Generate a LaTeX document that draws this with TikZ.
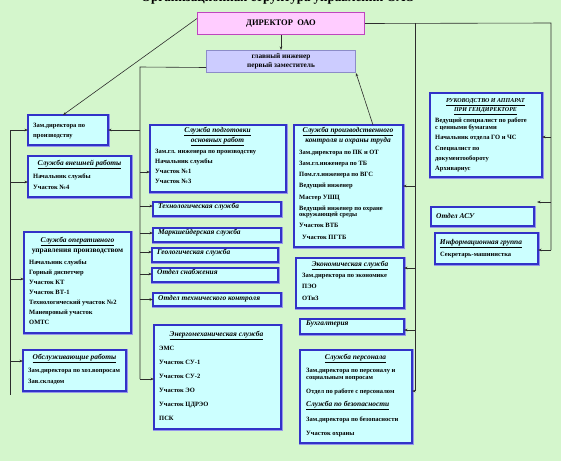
\documentclass[tikz,border=0pt]{standalone}
\usepackage{fontspec}
\setmainfont{Liberation Serif}
\usetikzlibrary{arrows.meta,calc}
\definecolor{bgc}{RGB}{212,246,204}
\definecolor{boxf}{RGB}{204,255,255}
\definecolor{boxd}{RGB}{50,50,200}
\definecolor{boxo}{RGB}{150,150,235}
\definecolor{dirf}{RGB}{255,204,255}
\definecolor{dird}{RGB}{190,70,190}
\definecolor{gif}{RGB}{204,204,255}
\definecolor{gid}{RGB}{140,140,200}
\definecolor{lnc}{RGB}{45,45,45}
\newcommand\mkbox[5]{\node[box, minimum width={(#4-#2)*1pt}, minimum height={(#5-#3)*1pt}] (#1) at (#2,#3) {};}
\begin{document}
\begin{tikzpicture}[x=1pt,y=-1pt,
  box/.style={draw=boxd, fill=boxf, line width=1.3pt, inner sep=0pt, outer sep=0pt, anchor=north west,
    preaction={draw=boxo, line width=3pt}},
  itm/.style={inner sep=0pt, anchor=north west, align=left, font=\fontsize{6.5}{10}\selectfont\bfseries},
  ttl/.style={inner sep=0pt, anchor=north, align=center, font=\fontsize{7.4}{10}\selectfont\bfseries\itshape},
  stl/.style={inner sep=0pt, anchor=north west, font=\fontsize{7.4}{10}\selectfont\bfseries\itshape},
  ln/.style={draw=lnc, line width=0.6pt},
  arr/.style={draw=lnc, line width=0.6pt, -{Stealth[length=3.5pt,width=2.6pt]}}
]
\useasboundingbox (0,0) rectangle (561,461);
\clip (0,0) rectangle (561,461);
\fill[bgc] (0,0) rectangle (561,461);

% title (cut off at the top, as in the reference)
\node[inner sep=0pt, anchor=base, font=\fontsize{13}{14}\selectfont\bfseries] (title) at (278,1.4) {Организационная структура управления ОАО};

% director and chief engineer
\node[draw=dird, fill=dirf, line width=1pt, inner sep=0pt, anchor=north west, minimum width=167pt, minimum height=22pt,
  font=\fontsize{8.5}{10}\selectfont\bfseries] (dir) at (197,12) {ДИРЕКТОР\ \ ОАО};
\node[draw=gid, fill=gif, line width=1pt, inner sep=0pt, anchor=north west, minimum width=149pt, minimum height=22pt,
  align=center, font=\fontsize{7.3}{8.5}\selectfont\bfseries] (gi) at (206,50) {главный инженер\\первый заместитель};

% left column
\mkbox{zd}{28}{115}{108}{145}
\node[itm] (zd-t) at (33,122.5) {Зам.директора по\\производству};

\mkbox{vr}{28}{156}{131}{197}
\node[ttl] (vr-h) at (79.5,159.8) {\underline{Служба внешней работы}};
\node[itm, font=\fontsize{6.5}{11}\selectfont\bfseries] (vr-t) at (33,173.5) {Начальник службы\\Участок №4};

\mkbox{op}{24}{232}{131}{333}
\node[ttl] (op-h) at (77.5,236.8) {\underline{Служба оперативного}\\{\upshape управления производством}};
\node[itm] (op-t) at (29,259.5) {Начальник службы\\Горный диспетчер\\Участок КТ\\Участок ВТ-1\\Технологический участок №2\\Маневровый участок\\ОМТС};

\mkbox{ob}{23}{350}{126}{391}
\node[ttl] (ob-h) at (74.5,353.8) {\underline{Обслуживающие работы}};
\node[itm, font=\fontsize{6.5}{11}\selectfont\bfseries] (ob-t) at (28,367.5) {Зам.директора по хоз.вопросам\\Зав.складом};

% centre column
\mkbox{sp}{150}{125}{286}{192}
\node[ttl] (sp-h) at (217.5,126.8) {\underline{Служба подготовки}\\\underline{основных работ}};
\node[itm, font=\fontsize{6.5}{10.3}\selectfont\bfseries] (sp-t) at (155,148.5) {Зам.гл. инженера по производству\\Начальник службы\\Участок №1\\Участок №3};

\mkbox{tech}{153}{202}{281}{216}
\node[stl] (tech-t) at (158,203) {Технологическая служба};
\mkbox{mk}{153}{228}{281}{242}
\node[stl] (mk-t) at (158,229.3) {Маркшейдерская служба};
\mkbox{geo}{152}{248}{278}{262}
\node[stl] (geo-t) at (157,248.8) {Геологическая служба};
\mkbox{ot}{152}{268}{278}{282}
\node[stl] (ot-t) at (157,268.8) {Отдел снабжения};
\mkbox{otk}{153}{293}{281}{306}
\node[stl] (otk-t) at (158,294.8) {Отдел технического контроля};

\mkbox{em}{154}{325}{281}{429}
\node[ttl] (em-h) at (216.5,331) {\underline{Энергомеханическая служба}};
\node[itm, font=\fontsize{6.5}{14}\selectfont\bfseries] (em-t) at (159,345.5) {ЭМС\\Участок СУ-1\\Участок СУ-2\\Участок ЭО\\Участок ЦДРЭО\\ПСК};

% right-centre column
\mkbox{pk}{294}{125}{403}{247}
\node[ttl] (pk-h) at (348,126.8) {\underline{Служба производственного}\\контроля и охраны труда};
\node[itm, font=\fontsize{6.5}{11.3}\selectfont\bfseries] (pk-t) at (299,149.5) {Зам.директора по ПК и ОТ\\Зам.гл.инженера по ТБ\\Пом.гл.инженера по ВГС\\Ведущий инженер\\Мастер УШЦ\\Ведущий инженер по охране\\[-5.3pt]окружающей среды\\Участок ВТБ\\\hspace{3pt}Участок ПГТБ};

\mkbox{ek}{296}{258}{404}{308}
\node[ttl] (ek-h) at (350,261) {\underline{Экономическая служба}};
\node[itm, font=\fontsize{6.5}{11.5}\selectfont\bfseries] (ek-t) at (302,272.5) {Зам.директора по экономике\\ПЭО\\ОТиЗ};

\mkbox{bu}{300}{319}{404}{334}
\node[stl] (bu-t) at (306,320.3) {Бухгалтерия};

\mkbox{pe}{300}{350}{412}{443}
\node[ttl] (pe-h) at (355.5,354) {\underline{Служба персонала}};
\node[itm, font=\fontsize{6.5}{7}\selectfont\bfseries] (pe-t) at (306,367.5) {Зам.директора по персоналу и\\социальным вопросам\\[7pt]Отдел по работе с персоналом};
\node[stl] (pe-h2) at (306,401) {\underline{Служба по безопасности}};
\node[itm, font=\fontsize{6.5}{14}\selectfont\bfseries] (pe-t2) at (306,416.5) {Зам.директора по безопасности\\Участок охраны};

% right column
\mkbox{ru}{430}{93}{542}{177}
\node[ttl, font=\fontsize{6}{8.5}\selectfont\bfseries\itshape] (ru-h) at (485.5,98.7) {\underline{РУКОВОДСТВО И АППАРАТ}\\\underline{ПРИ ГЕНДИРЕКТОРЕ}};
\node[itm, font=\fontsize{6.5}{7}\selectfont\bfseries] (ru-t) at (435,117.5) {Ведущий специалист по работе\\с ценными бумагами\\[3pt]Начальник отдела ГО и ЧС\\[4pt]Специалист по\\[3pt]документообороту\\[3pt]Архивариус};

\mkbox{asu}{431}{207}{534}{226}
\node[stl] (asu-t) at (436,213) {Отдел АСУ};

\mkbox{ig}{435}{233}{538}{264}
\node[ttl] (ig-h) at (481,239) {\underline{Информационная группа}};
\node[itm] (ig-t) at (440,251.5) {Секретарь-машинистка};

% bus coordinates
\coordinate (L0) at (10,130);
\coordinate (L1) at (10,395);
\coordinate (C0) at (140,67);
\coordinate (C1) at (140,379);
\coordinate (M0) at (415,23);
\coordinate (M1) at (415,391);
\coordinate (R0) at (551,23);
\coordinate (R1) at (551,250);

% main connectors
\draw[arr] ([yshift=5pt]dir.west) -- ([xshift=-5pt]zd.north);
\draw[arr] (dir.south) -- (gi.south |- gi.north);
\draw[ln] (dir.east) -- (R0) -- (R1);
\draw[ln] (M0) -- (M1);
\draw[ln] ([yshift=-6pt]gi.west) -- (C0) -- (C1);
\draw[ln] (L0) -- (L1);
\draw[arr] ([xshift=24.5pt]pk.north) -- (gi.south east);

% left bus arrows
\draw[arr] (zd.west -| L0) -- (zd.west);
\coordinate (vra) at ([yshift=-5.5pt]vr.west);
\draw[arr] (vra -| L0) -- (vra);
\coordinate (opa) at ([yshift=3.5pt]op.west);
\draw[arr] (opa -| L0) -- (opa);
\coordinate (oba) at ([yshift=9.5pt]ob.west);
\draw[arr] (oba -| L0) -- (oba);

% centre bus arrows
\draw[arr] (zd.east -| C0) -- (zd.east);
\coordinate (spa) at ([yshift=-13.5pt]sp.west);
\draw[arr] (spa -| C0) -- (spa);
\coordinate (techa) at ([yshift=3pt]tech.west);
\draw[arr] (techa -| C0) -- (techa);
\coordinate (mka) at ([yshift=2pt]mk.west);
\draw[arr] (mka -| C0) -- (mka);
\coordinate (geoa) at ([yshift=3pt]geo.west);
\draw[arr] (geoa -| C0) -- (geoa);
\coordinate (ota) at ([yshift=1pt]ot.west);
\draw[arr] (ota -| C0) -- (ota);
\draw[arr] (otk.west -| C0) -- (otk.west);
\coordinate (ema) at ([yshift=-2pt]em.west);
\draw[arr] (ema -| C0) -- (ema);

% right-centre bus arrows
\draw[arr] (pk.east -| M0) -- (pk.east);
\coordinate (eka) at ([yshift=15pt]ek.east);
\draw[arr] (eka -| M0) -- (eka);
\coordinate (bua) at ([yshift=-3.5pt]bu.east);
\draw[arr] (bua -| M0) -- (bua);
\coordinate (pea) at ([yshift=5.5pt]pe.east);
\draw[arr] (pea -| M0) -- (pea);

% right bus arrows
\coordinate (rua) at ([yshift=-2pt]ru.east);
\draw[arr] (rua -| R0) -- (rua);
\coordinate (asua) at ([shift={(3pt,5pt)}]asu.north east);
\draw[arr] (asua -| R0) -- (asua);
\coordinate (iga) at ([yshift=-1.5pt]ig.east);
\draw[arr] (iga -| R0) -- (iga);
\end{tikzpicture}
\end{document}
